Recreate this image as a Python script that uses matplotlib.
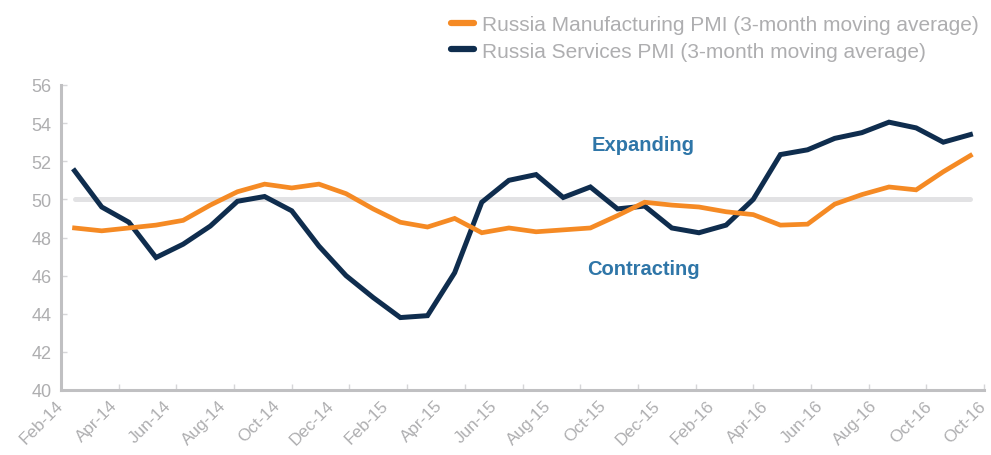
import matplotlib
matplotlib.use("Agg")
from matplotlib import pyplot as plt

plt.rcParams['font.family'] = ['Liberation Sans', 'DejaVu Sans']

# 3-month moving averages, Feb-14 onwards
manufacturing = [48.5, 48.35, 48.5, 48.65, 48.9, 49.7, 50.4, 50.8, 50.6, 50.8,
                 50.3, 49.5, 48.8, 48.55, 49.0, 48.25, 48.5, 48.3, 48.4, 48.5,
                 49.15, 49.85, 49.7, 49.6, 49.35, 49.2, 48.65, 48.7, 49.75, 50.25,
                 50.65, 50.5, 51.45, 52.3]
services = [51.5, 49.6, 48.8, 46.95, 47.65, 48.6, 49.9, 50.15, 49.4, 47.55,
            46.0, 44.85, 43.8, 43.9, 46.15, 49.85, 51.0, 51.3, 50.1, 50.65,
            49.5, 49.65, 48.5, 48.25, 48.65, 50.0, 52.35, 52.6, 53.2, 53.5,
            54.05, 53.75, 53.0, 53.4]
month_labels = ["Feb-14", "Apr-14", "Jun-14", "Aug-14", "Oct-14", "Dec-14",
                "Feb-15", "Apr-15", "Jun-15", "Aug-15", "Oct-15", "Dec-15",
                "Feb-16", "Apr-16", "Jun-16", "Aug-16", "Oct-16", "Oct-16"]
y_ticks = [40, 42, 44, 46, 48, 50, 52, 54, 56]
threshold = 50

orange = "#F58A24"
navy = "#0F2D4E"
grey_text = "#AEAEB0"
axis_grey = "#C0C0C2"

fig = plt.figure(figsize=(9.91, 4.56), dpi=100)
ax = fig.add_axes([61 / 991, 1 - 391 / 456, 923 / 991, 305 / 456])

n = len(services)
xs = list(range(n))

ax.plot(xs, [threshold] * n, color="#E2E2E4", lw=3.6, solid_capstyle="round", zorder=1)
ax.plot(xs, manufacturing, color=orange, lw=3.4, solid_joinstyle="miter",
        label="Russia Manufacturing PMI (3-month moving average)", zorder=3)
ax.plot(xs, services, color=navy, lw=3.6, solid_joinstyle="miter",
        label="Russia Services PMI (3-month moving average)", zorder=2)

ax.set_xlim(-0.5, n - 0.5)
ax.set_ylim(40, 56)
ax.set_yticks(y_ticks)

# tick marks (16 even divisions) and labels (every two months) sit apart
tick_pos = [-0.5 + k * n / 16 for k in range(17)]
ax.set_xticks(tick_pos)
ax.set_xticklabels([])
label_pos = [-0.5 + 2 * k for k in range(len(month_labels))]
for p, lab in zip(label_pos, month_labels):
    ax.text(p - 0.22, 39.6, lab, rotation=45, ha="right", va="top",
            rotation_mode="anchor", color=grey_text, fontsize=12.3)

for s in ["top", "right"]:
    ax.spines[s].set_visible(False)
for s in ["left", "bottom"]:
    ax.spines[s].set_color(axis_grey)
    ax.spines[s].set_linewidth(2.2)
ax.tick_params(axis="both", direction="in", length=4, width=1, color="#D6D6D8")
ax.tick_params(axis="y", labelsize=13, labelcolor=grey_text, pad=7)

ax.text(20.94, 52.9, "Expanding", color="#2F76A8", fontsize=14.5,
        fontweight="bold", ha="center", va="center")
ax.text(20.94, 46.35, "Contracting", color="#2F76A8", fontsize=14.5,
        fontweight="bold", ha="center", va="center")

leg = fig.legend(loc="upper left", bbox_to_anchor=(443 / 991, 1 - 8 / 456),
                 frameon=False, fontsize=15, handlelength=1.1,
                 handletextpad=0.35, labelspacing=0.35, borderaxespad=0)
for t in leg.get_texts():
    t.set_color(grey_text)
for h in leg.legend_handles:
    h.set_linewidth(4.5)
    h.set_solid_capstyle("round")

fig.savefig("out.png", dpi=100)
